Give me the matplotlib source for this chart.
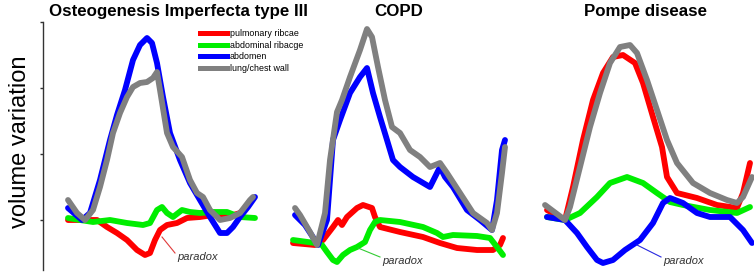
import matplotlib
matplotlib.use("Agg")
import matplotlib.pyplot as plt
from matplotlib.lines import Line2D

plt.rcParams['font.family'] = ['Liberation Sans', 'DejaVu Sans']

# ---------------- data (time in arbitrary units, volume variation in arbitrary units) -------------
series_names = ["pulmonary ribcae", "abdominal ribacge", "abdomen", "lung/chest wall"]
series_colors = ["#ff0000", "#00ee00", "#0000ff", "#808080"]
titles = ["Osteogenesis Imperfecta type III", "COPD", "Pompe disease"]

# Panel 1: Osteogenesis Imperfecta type III
oi_red_t = [0, 29, 39, 49, 59, 69, 77, 82, 87, 92, 99, 109, 119, 132, 145, 159, 172, 182]
oi_red_v = [0, 0, -7, -13, -20, -30, -35, -33, -20, -10, -5, -3, 2, 3, 5, 3, 7, 17]
oi_green_t = [0, 12, 25, 42, 59, 75, 82, 89, 94, 99, 105, 114, 122, 132, 145, 159, 172, 187]
oi_green_v = [2, 0, -2, 0, -3, -5, -3, 10, 13, 7, 3, 10, 8, 7, 8, 8, 3, 2]
oi_blue_t = [0, 14, 22, 32, 42, 49, 57, 65, 72, 79, 84, 89, 95, 102, 112, 122, 132, 142, 152, 159, 165, 172, 180, 187]
oi_blue_v = [12, 0, 7, 40, 80, 105, 130, 160, 175, 182, 177, 157, 123, 87, 60, 37, 20, 3, -13, -13, -7, 3, 13, 23]
oi_gray_t = [0, 9, 17, 25, 32, 39, 45, 52, 59, 65, 72, 79, 85, 89, 92, 99, 105, 114, 122, 129, 135, 142, 152, 162, 172, 182, 185]
oi_gray_v = [20, 7, 0, 10, 33, 60, 87, 107, 123, 133, 137, 138, 142, 148, 130, 87, 73, 63, 40, 27, 23, 10, 0, 2, 7, 20, 23]

# Panel 2: COPD
copd_red_t = [0, 22, 30, 40, 45, 49, 54, 64, 70, 79, 82, 87, 107, 130, 147, 164, 184, 200, 207, 210]
copd_red_v = [-23, -25, -20, -7, 0, -5, 3, 12, 15, 12, 3, -7, -12, -17, -23, -28, -30, -30, -25, -18]
copd_green_t = [0, 22, 29, 34, 40, 44, 50, 57, 64, 72, 77, 82, 87, 107, 130, 144, 150, 160, 184, 197, 204, 210]
copd_green_v = [-20, -23, -25, -32, -40, -42, -35, -30, -27, -22, -10, -2, 0, -2, -7, -13, -17, -15, -16, -18, -27, -35]
copd_blue_t = [2, 12, 25, 34, 40, 47, 57, 67, 74, 80, 87, 94, 100, 107, 120, 137, 142, 147, 152, 160, 174, 187, 199, 204, 209, 212]
copd_blue_v = [5, -5, -25, 0, 80, 100, 127, 143, 152, 127, 103, 80, 60, 53, 43, 33, 43, 53, 43, 33, 10, 0, -10, 20, 70, 80]
copd_gray_t = [2, 7, 17, 24, 32, 37, 44, 49, 57, 67, 74, 79, 85, 92, 99, 107, 117, 127, 137, 147, 154, 167, 180, 194, 199, 204, 209, 212]
copd_gray_v = [12, 5, -12, -25, 7, 60, 108, 120, 143, 170, 191, 183, 153, 120, 93, 87, 70, 63, 53, 57, 47, 27, 7, -3, -10, 7, 47, 73]

# Panel 3: Pompe disease
pompe_red_t = [2, 20, 28, 38, 48, 58, 68, 78, 90, 98, 108, 117, 122, 132, 152, 172, 192, 198, 205]
pompe_red_v = [10, 0, 33, 80, 120, 147, 163, 165, 157, 137, 103, 73, 43, 27, 22, 15, 12, 27, 57]
pompe_green_t = [2, 20, 35, 52, 65, 82, 98, 112, 125, 138, 165, 192, 205]
pompe_green_v = [3, 0, 7, 23, 37, 43, 37, 27, 18, 15, 10, 7, 13]
pompe_blue_t = [2, 20, 32, 42, 52, 58, 68, 80, 95, 108, 118, 125, 138, 152, 165, 185, 198, 207]
pompe_blue_v = [3, 0, -13, -27, -40, -43, -40, -30, -20, -3, 17, 22, 17, 7, 3, 3, -10, -23]
pompe_gray_t = [0, 20, 25, 35, 45, 55, 65, 75, 85, 92, 102, 112, 122, 132, 148, 165, 182, 192, 198, 207]
pompe_gray_v = [15, 0, 13, 53, 93, 127, 157, 173, 175, 167, 140, 110, 80, 57, 37, 27, 20, 17, 23, 43]

# paradox annotations: (from t, from v) -> text at (t, v)
paradox_from = [(94, -17), (65, -28), (92, -25)]
paradox_text = [(109, -37), (89, -41), (118, -41)]
paradox_colors = ["#e03a3a", "#33cc33", "#2a2ae0"]

# ---------------- figure ----------------
W, H = 754, 273
fig = plt.figure(figsize=(W / 100, H / 100), dpi=100)

def px_axes(left, right, top=22, bottom=270):
    return fig.add_axes([left / W, (H - bottom) / H, (right - left) / W, (bottom - top) / H])

panels = [
    (px_axes(43, 262), (-25, 194),
     [(oi_red_t, oi_red_v), (oi_green_t, oi_green_v), (oi_blue_t, oi_blue_v), (oi_gray_t, oi_gray_v)]),
    (px_axes(283, 513), (-10, 220),
     [(copd_red_t, copd_red_v), (copd_green_t, copd_green_v), (copd_blue_t, copd_blue_v), (copd_gray_t, copd_gray_v)]),
    (px_axes(535, 754), (-10, 209),
     [(pompe_red_t, pompe_red_v), (pompe_green_t, pompe_green_v), (pompe_blue_t, pompe_blue_v), (pompe_gray_t, pompe_gray_v)]),
]

for i, (ax, xlim, data) in enumerate(panels):
    for (t, v), c, name in zip(data, series_colors, series_names):
        ax.plot(t, v, color=c, lw=4.2, solid_capstyle='round', solid_joinstyle='round', label=name)
    ax.set_xlim(*xlim)
    ax.set_ylim(-50, 198)
    for s in ['top', 'right', 'bottom']:
        ax.spines[s].set_visible(False)
    ax.set_xticks([])
    if i == 0:
        ax.spines['left'].set_color('#333333')
        ax.spines['left'].set_linewidth(1.0)
        ax.set_yticks([0, 66, 132, 198])
        ax.set_yticklabels([])
        ax.tick_params(axis='y', direction='out', length=2.5, width=1.0, color='#333333')
    else:
        ax.spines['left'].set_visible(False)
        ax.set_yticks([])
    ax.patch.set_alpha(0)
    (fx, fy), (tx, ty) = paradox_from[i], paradox_text[i]
    ax.plot([fx, tx - 2], [fy, ty + 4], color=paradox_colors[i], lw=0.8, clip_on=False)
    ax.text(tx, ty, "paradox", fontsize=8, style='italic', color='#333333',
            ha='left', va='center', clip_on=False)

# titles
title_x = [178.5, 399, 645]
for x, t in zip(title_x, titles):
    fig.text(x / W, 1 - 16 / H, t, ha='center', va='baseline', fontsize=12.2, fontweight='bold')

# y label
fig.text(20 / W, 1 - 142 / H, "volume variation", rotation=90, ha='center', va='center', fontsize=17)

# legend
handles = [Line2D([0], [0], color=c, lw=3.6) for c in series_colors]
fig.legend(handles, series_names, loc='upper left', bbox_to_anchor=(200 / W, 1 - 29 / H),
           frameon=False, fontsize=6.4, handlelength=3.0, handletextpad=0.35,
           labelspacing=0.3, borderpad=0, borderaxespad=0)

fig.savefig("out.png", dpi=100)
